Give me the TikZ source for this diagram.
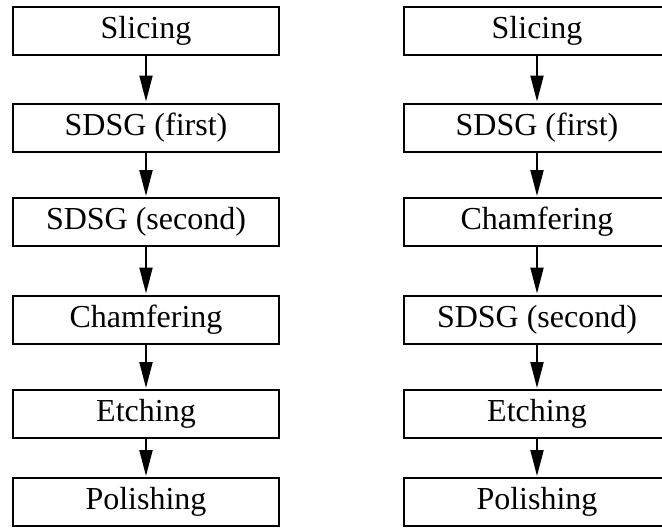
\documentclass[tikz,border=0pt]{standalone}
\usepackage{fontspec}
\setmainfont{Liberation Serif}
\usepackage{tikz}
\usetikzlibrary{arrows.meta}

\begin{document}
\begin{tikzpicture}[x=0.5pt, y=-0.5pt, >={Triangle[length=13pt, width=6.5pt]},
    stage/.style={draw, line width=1pt, minimum width=133pt, minimum height=24pt,
        inner sep=0pt, font=\fontsize{16}{18}\selectfont},
    flow/.style={->, line width=1pt, shorten >=0.5pt}]

    %% Background
    \useasboundingbox (0,0) rectangle (662,527);
    \clip (0,0) rectangle (662,527);

    % First route
    \node[stage] (sl1) at (146,31) {Slicing};
    \node[stage] (fi1) at (146,127.5) {SDSG (first)};
    \node[stage] (se1) at (146,222) {SDSG (second)};
    \node[stage] (ch1) at (146,319.5) {Chamfering};
    \node[stage] (et1) at (146,414) {Etching};
    \node[stage] (po1) at (146,502) {Polishing};

    \draw[flow] (sl1) -- (fi1);
    \draw[flow] (fi1) -- (se1);
    \draw[flow] (se1) -- (ch1);
    \draw[flow] (ch1) -- (et1);
    \draw[flow] (et1) -- (po1);

    % Second route, chamfering moved up
    \node[stage] (sl2) at (537,31) {Slicing};
    \node[stage] (fi2) at (537,127.5) {SDSG (first)};
    \node[stage] (ch2) at (537,222) {Chamfering};
    \node[stage] (se2) at (537,319.5) {SDSG (second)};
    \node[stage] (et2) at (537,414) {Etching};
    \node[stage] (po2) at (537,502) {Polishing};

    \draw[flow] (sl2) -- (fi2);
    \draw[flow] (fi2) -- (ch2);
    \draw[flow] (ch2) -- (se2);
    \draw[flow] (se2) -- (et2);
    \draw[flow] (et2) -- (po2);

\end{tikzpicture}
\end{document}
